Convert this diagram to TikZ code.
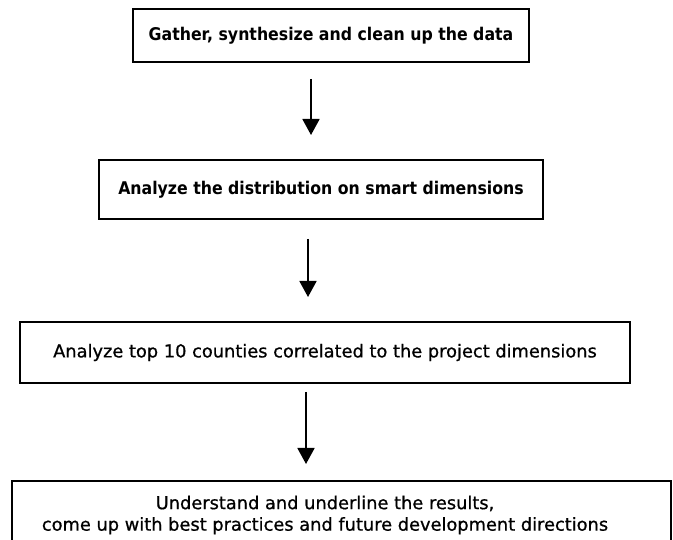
\documentclass[tikz,border=0pt]{standalone}
\usepackage{fontspec}
\setmainfont{DejaVu Sans}
\newfontfamily\narrowfont[FakeStretch=0.9]{DejaVu Sans}
\newfontfamily\semifont[FakeBold=0.8]{DejaVu Sans}
\usetikzlibrary{arrows.meta}
\begin{document}
\begin{tikzpicture}[x=1pt,y=-1pt,
  stepbox/.style={draw=black,line width=1.8pt,inner sep=0pt,align=center},
  boldtext/.style={font=\narrowfont\fontsize{17.5}{21}\selectfont\bfseries},
  plaintext/.style={font=\semifont\fontsize{17.8}{21.5}\selectfont},
  flow/.style={line width=1.8pt,-{Triangle[width=17pt,length=16pt]}}]
\useasboundingbox (0,0) rectangle (673,540);
\node[stepbox,boldtext,minimum width=396pt,minimum height=53pt] (b1) at (331,35.5) {Gather, synthesize and clean up the data};
\node[stepbox,boldtext,minimum width=444pt,minimum height=59pt] (b2) at (321,189.5) {Analyze the distribution on smart dimensions};
\node[stepbox,plaintext,minimum width=610pt,minimum height=61pt] (b3) at (325,352.5) {Analyze top 10 counties correlated to the project dimensions};
\node[stepbox,minimum width=659pt,minimum height=70pt] (b4) at (341.5,516) {};
\node[plaintext,align=center,inner sep=0pt] (b4text) at (325,515) {Understand and underline the results,\\come up with best practices and future development directions};
\coordinate (a1s) at (311,79); \coordinate (a1e) at (311,135);
\coordinate (a2s) at (308,239); \coordinate (a2e) at (308,297);
\coordinate (a3s) at (306,392); \coordinate (a3e) at (306,464);
\draw[flow] (a1s) -- (a1e);
\draw[flow] (a2s) -- (a2e);
\draw[flow] (a3s) -- (a3e);
\end{tikzpicture}
\end{document}
